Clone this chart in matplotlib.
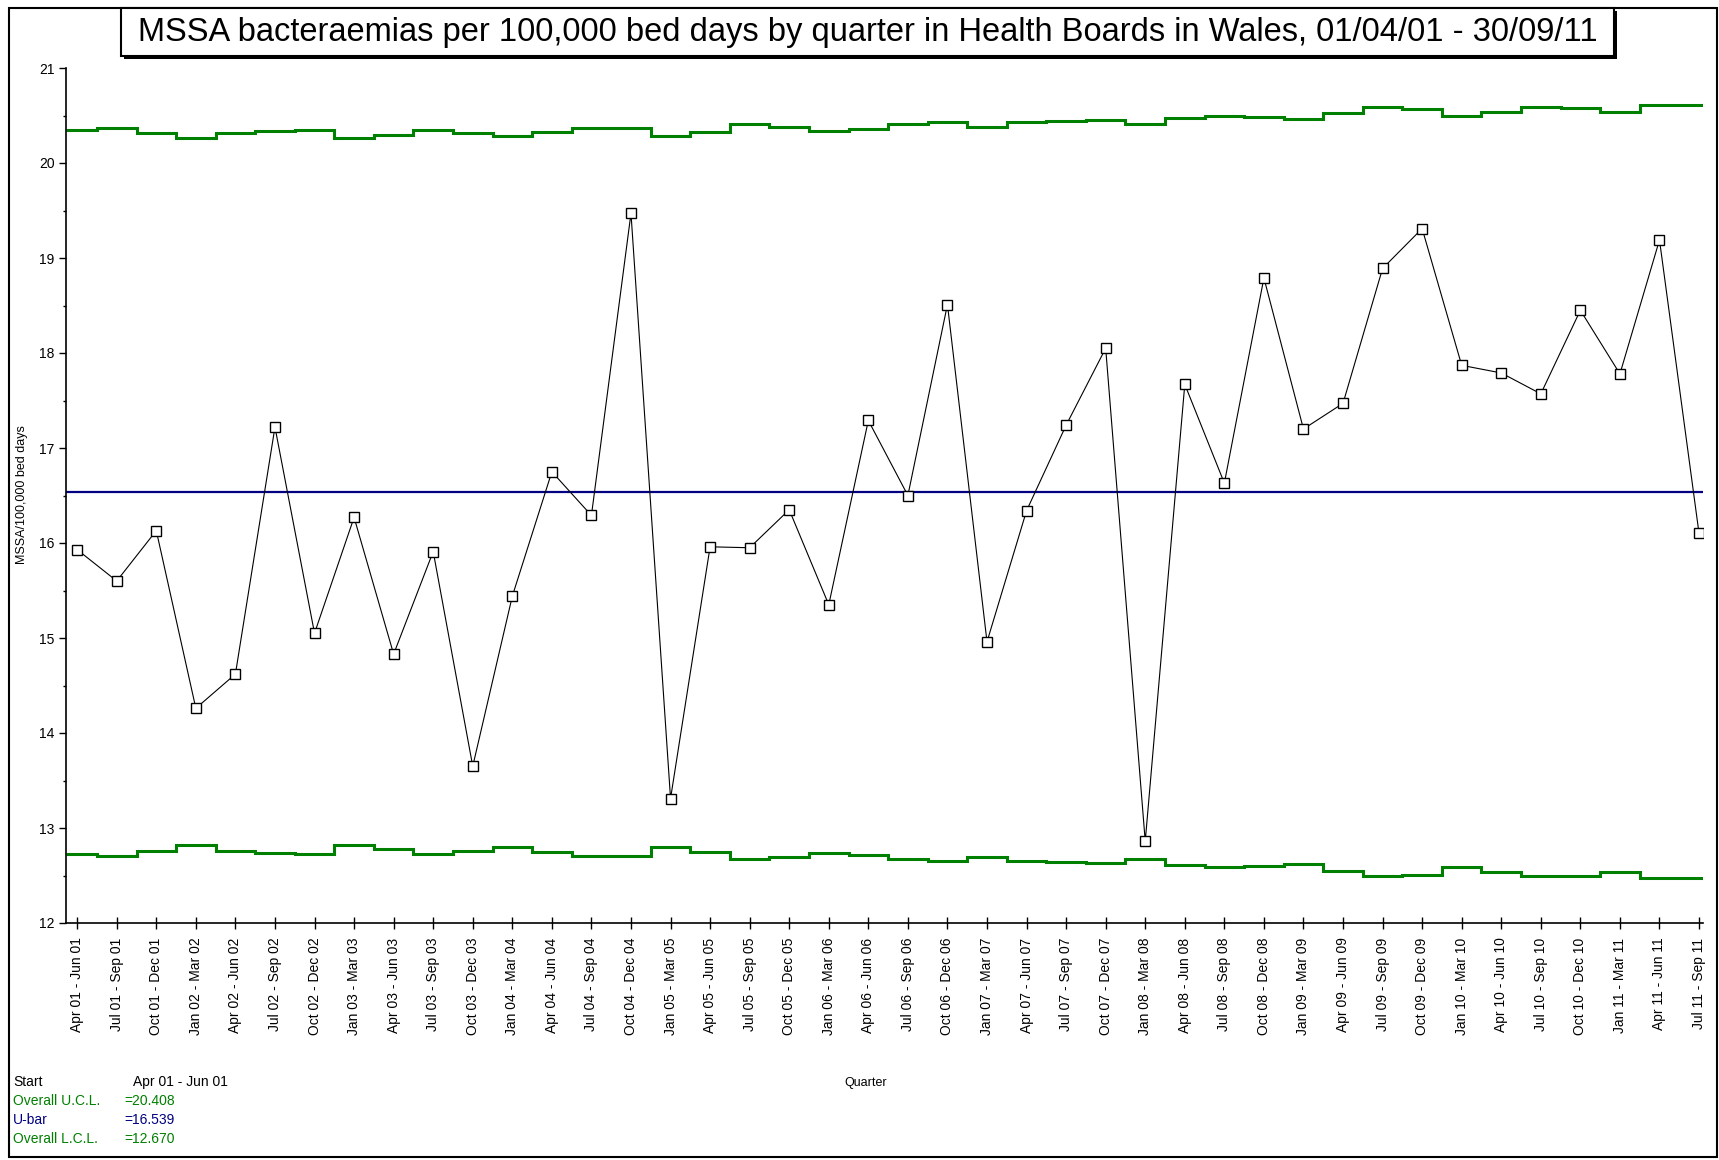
import numpy as np
import matplotlib
matplotlib.use("Agg")
import matplotlib.pyplot as plt
from matplotlib.patches import Rectangle

plt.rcParams['font.family'] = ['Liberation Sans', 'DejaVu Sans']

quarters = [
    "Apr 01 - Jun 01", "Jul 01 - Sep 01", "Oct 01 - Dec 01",
    "Jan 02 - Mar 02", "Apr 02 - Jun 02", "Jul 02 - Sep 02", "Oct 02 - Dec 02",
    "Jan 03 - Mar 03", "Apr 03 - Jun 03", "Jul 03 - Sep 03", "Oct 03 - Dec 03",
    "Jan 04 - Mar 04", "Apr 04 - Jun 04", "Jul 04 - Sep 04", "Oct 04 - Dec 04",
    "Jan 05 - Mar 05", "Apr 05 - Jun 05", "Jul 05 - Sep 05", "Oct 05 - Dec 05",
    "Jan 06 - Mar 06", "Apr 06 - Jun 06", "Jul 06 - Sep 06", "Oct 06 - Dec 06",
    "Jan 07 - Mar 07", "Apr 07 - Jun 07", "Jul 07 - Sep 07", "Oct 07 - Dec 07",
    "Jan 08 - Mar 08", "Apr 08 - Jun 08", "Jul 08 - Sep 08", "Oct 08 - Dec 08",
    "Jan 09 - Mar 09", "Apr 09 - Jun 09", "Jul 09 - Sep 09", "Oct 09 - Dec 09",
    "Jan 10 - Mar 10", "Apr 10 - Jun 10", "Jul 10 - Sep 10", "Oct 10 - Dec 10",
    "Jan 11 - Mar 11", "Apr 11 - Jun 11", "Jul 11 - Sep 11",
]

rate = [
    15.93, 15.60, 16.13,
    14.26, 14.62, 17.22, 15.05,
    16.27, 14.83, 15.91, 13.65,
    15.44, 16.75, 16.29, 19.47,
    13.31, 15.96, 15.95, 16.35,
    15.35, 17.29, 16.50, 18.51,
    14.96, 16.34, 17.24, 18.05,
    12.86, 17.67, 16.63, 18.79,
    17.20, 17.47, 18.89, 19.31,
    17.87, 17.79, 17.57, 18.45,
    17.78, 19.19, 16.10,
]

ucl = [
    20.35, 20.37, 20.32,
    20.26, 20.32, 20.34, 20.35,
    20.26, 20.30, 20.35, 20.32,
    20.28, 20.33, 20.37, 20.37,
    20.28, 20.33, 20.41, 20.38,
    20.34, 20.36, 20.41, 20.43,
    20.38, 20.43, 20.44, 20.45,
    20.41, 20.47, 20.49, 20.48,
    20.46, 20.53, 20.59, 20.57,
    20.49, 20.54, 20.59, 20.58,
    20.54, 20.61, 20.61,
]

lcl = [
    12.73, 12.71, 12.76,
    12.82, 12.76, 12.74, 12.73,
    12.82, 12.78, 12.73, 12.76,
    12.80, 12.75, 12.71, 12.71,
    12.80, 12.75, 12.67, 12.70,
    12.74, 12.72, 12.67, 12.65,
    12.70, 12.65, 12.64, 12.63,
    12.67, 12.61, 12.59, 12.60,
    12.62, 12.55, 12.49, 12.51,
    12.59, 12.54, 12.49, 12.50,
    12.54, 12.47, 12.47,
]

u_bar = 16.539
overall_ucl = 20.408
overall_lcl = 12.670

title = ("MSSA bacteraemias per 100,000 bed days by quarter in Health Boards "
         "in Wales, 01/04/01 - 30/09/11")

GREEN = "#008000"
NAVY = "#000080"

W, H = 1719, 1160
fig = plt.figure(figsize=(W / 100, H / 100), dpi=100)
fig.patch.set_facecolor("white")

def fx(px):
    return px / W

def fy(py):
    return 1 - py / H

# axes placement (pixel geometry)
ax_l, ax_r, ax_t, ax_b = 65.7, 1703.0, 68.0, 923.0
ax = fig.add_axes([fx(ax_l), fy(ax_b), fx(ax_r - ax_l), (ax_b - ax_t) / H])

x = np.arange(len(quarters))
xmin, xmax = -0.29, len(quarters) - 1 + 0.1

edges = np.concatenate([[xmin], x[:-1] + 0.5, [xmax]])
ax.stairs(ucl, edges, baseline=None, color=GREEN, lw=2.2)
ax.stairs(lcl, edges, baseline=None, color=GREEN, lw=2.2)
ax.axhline(u_bar, color=NAVY, lw=1.6)
ax.plot(x, rate, color="black", lw=0.8, marker="s", ms=6.8,
        mfc="white", mec="black", mew=1.0, zorder=5)

ax.set_xlim(xmin, xmax)
ax.set_ylim(12, 21)
ax.set_xticks(x)
ax.set_xticklabels(quarters, rotation=90, fontsize=10)
ax.set_yticks(np.arange(12, 22, 1))
ax.set_yticklabels([str(v) for v in range(12, 22)], fontsize=10)
ax.set_yticks(np.arange(12.5, 21, 1), minor=True)
ax.tick_params(axis="x", direction="inout", length=9, width=1, pad=6)
ax.tick_params(axis="y", which="major", direction="out", length=5, width=1, pad=3)
ax.tick_params(axis="y", which="minor", direction="out", length=2.5, width=1)
for s in ("top", "right"):
    ax.spines[s].set_visible(False)
for s in ("left", "bottom"):
    ax.spines[s].set_linewidth(1.2)

ax.set_facecolor("white")

# axis labels
fig.text(fx(22), fy(495), "MSSA/100,000 bed days", rotation=90,
         ha="center", va="center", fontsize=9)
fig.text(fx(866), fy(1083), "Quarter", ha="center", va="center", fontsize=9)

# outer border
fig.add_artist(Rectangle((fx(9), fy(1157)), fx(1717 - 9), (1157 - 8) / H,
                         transform=fig.transFigure, fill=False,
                         edgecolor="black", lw=1.5))

# title box with shadow
bx0, bx1, by0, by1 = 121, 1614, 8, 56
fig.add_artist(Rectangle((fx(bx0 + 3), fy(by1 + 3)), fx(bx1 - bx0), (by1 - by0) / H,
                         transform=fig.transFigure, facecolor="black",
                         edgecolor="black", lw=0))
fig.add_artist(Rectangle((fx(bx0), fy(by1)), fx(bx1 - bx0), (by1 - by0) / H,
                         transform=fig.transFigure, facecolor="white",
                         edgecolor="black", lw=1.5))
fig.text(fx((bx0 + bx1) / 2), fy((by0 + by1) / 2 + 1), title,
         ha="center", va="center", fontsize=23.5)

# bottom-left summary
fs = 10
fig.text(fx(13), fy(1082), "Start", ha="left", va="center", fontsize=fs, color="black")
fig.text(fx(133), fy(1082), quarters[0], ha="left", va="center", fontsize=fs, color="black")
fig.text(fx(13), fy(1101), "Overall U.C.L.", ha="left", va="center", fontsize=fs, color=GREEN)
fig.text(fx(124), fy(1101), f"={overall_ucl:.3f}", ha="left", va="center", fontsize=fs, color=GREEN)
fig.text(fx(13), fy(1120), "U-bar", ha="left", va="center", fontsize=fs, color=NAVY)
fig.text(fx(124), fy(1120), f"={u_bar:.3f}", ha="left", va="center", fontsize=fs, color=NAVY)
fig.text(fx(13), fy(1139), "Overall L.C.L.", ha="left", va="center", fontsize=fs, color=GREEN)
fig.text(fx(124), fy(1139), f"={overall_lcl:.3f}", ha="left", va="center", fontsize=fs, color=GREEN)

fig.savefig("out.png", dpi=100, facecolor="white")
